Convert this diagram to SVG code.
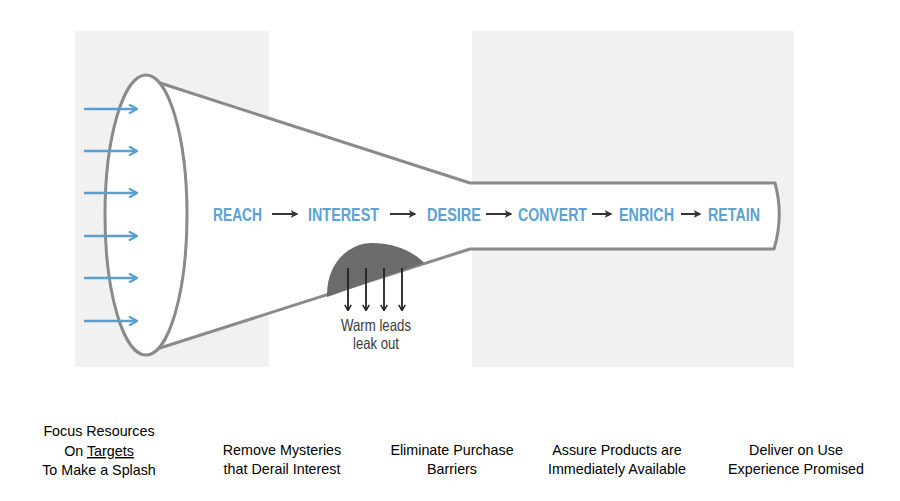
<svg xmlns="http://www.w3.org/2000/svg" width="900" height="501" viewBox="0 0 900 501">
<defs>
<style>
.panel{fill:#f1f1f1}
.outline{fill:#ffffff;stroke:#8a8a8a;stroke-width:3;stroke-linejoin:round}
.stage{font-family:"Liberation Sans Narrow","Liberation Sans",Arial,sans-serif;font-weight:bold;font-size:19px;fill:#5ba2d5}
.flow{stroke:#333333;stroke-width:2;fill:none}
.inflow{stroke:#5a9fd0;stroke-width:2.5;fill:none}
.leak{stroke:#222222;stroke-width:1.8;fill:none}
.note{font-family:"Liberation Sans Narrow","Liberation Sans",Arial,sans-serif;font-size:16.5px;fill:#3a3a3a;text-anchor:middle}
.cap{font-family:"Liberation Sans",Arial,sans-serif;font-size:14.3px;fill:#000000;text-anchor:middle}
</style>
<marker id="ah" viewBox="0 0 10 10" refX="8" refY="5" markerWidth="4" markerHeight="4" orient="auto" markerUnits="strokeWidth">
<path d="M0,0 L10,5 L0,10 L2.5,5 Z" fill="#333333"/>
</marker>
<marker id="ahb" viewBox="0 0 10 10" refX="8" refY="5" markerWidth="4" markerHeight="4" orient="auto" markerUnits="strokeWidth">
<path d="M1,0.5 L9,5 L1,9.5" fill="none" stroke="#5a9fd0" stroke-width="2.2"/>
</marker>
<marker id="ahd" viewBox="0 0 10 10" refX="8" refY="5" markerWidth="4" markerHeight="4" orient="auto" markerUnits="strokeWidth">
<path d="M1,0.5 L9,5 L1,9.5" fill="none" stroke="#222222" stroke-width="2"/>
</marker>
</defs>

<g id="background">
<rect class="panel" x="75" y="31" width="194" height="336"/>
<rect class="panel" x="472" y="31" width="322" height="336"/>
</g>

<g id="funnel">
<path class="outline" d="M160,83 L470,183 L775,183 Q784,216 774,249 L470,249 L160,348 Z"/>
<ellipse class="outline" cx="146" cy="215" rx="41" ry="140"/>
<path d="M327,297 C326,262 350,243 372,243 C395,243 414,252 424,263 Z" fill="#6b6b6b"/>
</g>

<g id="connectors">
<g id="inflow">
<line class="inflow" x1="84" y1="109" x2="136" y2="109" marker-end="url(#ahb)"/>
<line class="inflow" x1="84" y1="151" x2="136" y2="151" marker-end="url(#ahb)"/>
<line class="inflow" x1="84" y1="193" x2="136" y2="193" marker-end="url(#ahb)"/>
<line class="inflow" x1="84" y1="236" x2="136" y2="236" marker-end="url(#ahb)"/>
<line class="inflow" x1="84" y1="278" x2="136" y2="278" marker-end="url(#ahb)"/>
<line class="inflow" x1="84" y1="321" x2="136" y2="321" marker-end="url(#ahb)"/>
</g>
<g id="stage-arrows">
<line class="flow" x1="272" y1="214" x2="297" y2="214" marker-end="url(#ah)"/>
<line class="flow" x1="390" y1="214" x2="415" y2="214" marker-end="url(#ah)"/>
<line class="flow" x1="486" y1="214" x2="511" y2="214" marker-end="url(#ah)"/>
<line class="flow" x1="592" y1="214" x2="611" y2="214" marker-end="url(#ah)"/>
<line class="flow" x1="681" y1="214" x2="700" y2="214" marker-end="url(#ah)"/>
</g>
<g id="leak-arrows">
<line class="leak" x1="348" y1="268" x2="348" y2="310" marker-end="url(#ahd)"/>
<line class="leak" x1="366" y1="268" x2="366" y2="310" marker-end="url(#ahd)"/>
<line class="leak" x1="384" y1="268" x2="384" y2="310" marker-end="url(#ahd)"/>
<line class="leak" x1="402" y1="268" x2="402" y2="310" marker-end="url(#ahd)"/>
</g>
</g>

<g id="node-reach"><text class="stage" x="213" y="221" textLength="49" lengthAdjust="spacingAndGlyphs">REACH</text></g>
<g id="node-interest"><text class="stage" x="308" y="221" textLength="71" lengthAdjust="spacingAndGlyphs">INTEREST</text></g>
<g id="node-desire"><text class="stage" x="427" y="221" textLength="54" lengthAdjust="spacingAndGlyphs">DESIRE</text></g>
<g id="node-convert"><text class="stage" x="518" y="221" textLength="69" lengthAdjust="spacingAndGlyphs">CONVERT</text></g>
<g id="node-enrich"><text class="stage" x="619" y="221" textLength="55" lengthAdjust="spacingAndGlyphs">ENRICH</text></g>
<g id="node-retain"><text class="stage" x="708" y="221" textLength="52" lengthAdjust="spacingAndGlyphs">RETAIN</text></g>

<g id="leak-label">
<text class="note" x="376" y="331" textLength="70" lengthAdjust="spacingAndGlyphs">Warm leads</text>
<text class="note" x="376" y="349" textLength="46" lengthAdjust="spacingAndGlyphs">leak out</text>
</g>

<g id="caption-1">
<text class="cap" x="99" y="436">Focus Resources</text>
<text class="cap" x="99" y="456">On <tspan text-decoration="underline">Targets</tspan></text>
<text class="cap" x="99" y="475">To Make a Splash</text>
</g>
<g id="caption-2">
<text class="cap" x="282" y="455">Remove Mysteries</text>
<text class="cap" x="282" y="474">that Derail Interest</text>
</g>
<g id="caption-3">
<text class="cap" x="452" y="455">Eliminate Purchase</text>
<text class="cap" x="452" y="474">Barriers</text>
</g>
<g id="caption-4">
<text class="cap" x="617" y="455">Assure Products are</text>
<text class="cap" x="617" y="474">Immediately Available</text>
</g>
<g id="caption-5">
<text class="cap" x="796" y="455">Deliver on Use</text>
<text class="cap" x="796" y="474">Experience Promised</text>
</g>
</svg>
